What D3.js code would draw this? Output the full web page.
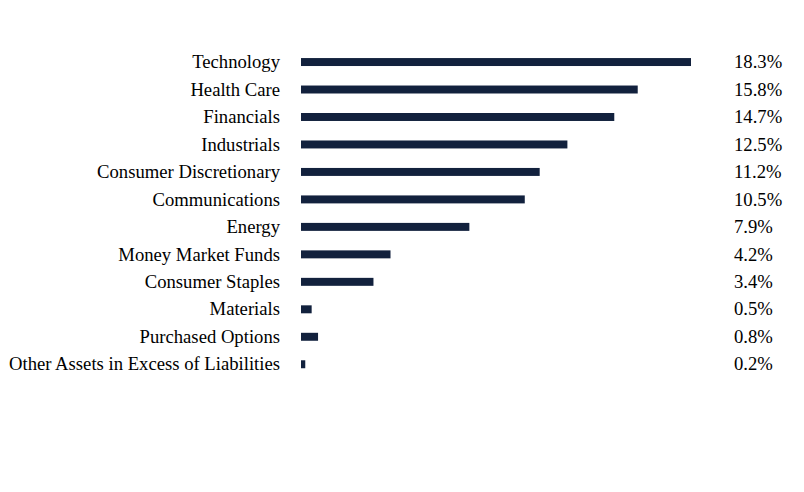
<!DOCTYPE html>
<html>
<head>
<meta charset="utf-8">
<script src="https://cdn.jsdelivr.net/npm/d3@7"></script>
<style>
  html, body { margin: 0; padding: 0; background: #ffffff; }
  svg { display: block; }
</style>
</head>
<body>
<svg id="chart" width="804" height="492"></svg>
<script>
const categories = [
  "Technology", "Health Care", "Financials", "Industrials",
  "Consumer Discretionary", "Communications", "Energy",
  "Money Market Funds", "Consumer Staples", "Materials",
  "Purchased Options", "Other Assets in Excess of Liabilities"
];
const values = [18.3, 15.8, 14.7, 12.5, 11.2, 10.5, 7.9, 4.2, 3.4, 0.5, 0.8, 0.2];
const valueLabels = ["18.3%", "15.8%", "14.7%", "12.5%", "11.2%", "10.5%", "7.9%", "4.2%", "3.4%", "0.5%", "0.8%", "0.2%"];

const svg = d3.select("#chart");
const barColor = "#12213d";
const font = "Liberation Serif, Times New Roman, serif";
const fontSize = 18.67;

const x = d3.scaleLinear().domain([0, 18.3]).range([301, 691]);
const y = d3.scaleBand().domain(categories).range([48.3, 378.0])
  .paddingInner(0.71).paddingOuter(0.355);

const data = categories.map((c, i) => ({ c, v: values[i], l: valueLabels[i] }));

svg.append("g").selectAll("rect").data(data).join("rect")
  .attr("x", x(0))
  .attr("y", d => y(d.c))
  .attr("width", d => x(d.v) - x(0))
  .attr("height", y.bandwidth())
  .attr("fill", barColor);

svg.append("g").selectAll("text").data(data).join("text")
  .attr("x", 280)
  .attr("y", d => y(d.c) + y.bandwidth() / 2)
  .attr("dy", "0.33em")
  .attr("text-anchor", "end")
  .attr("font-family", font)
  .attr("font-size", fontSize)
  .attr("fill", "#000")
  .text(d => d.c);

svg.append("g").selectAll("text").data(data).join("text")
  .attr("x", 734)
  .attr("y", d => y(d.c) + y.bandwidth() / 2)
  .attr("dy", "0.33em")
  .attr("text-anchor", "start")
  .attr("font-family", font)
  .attr("font-size", fontSize)
  .attr("fill", "#000")
  .text(d => d.l);
</script>
</body>
</html>
